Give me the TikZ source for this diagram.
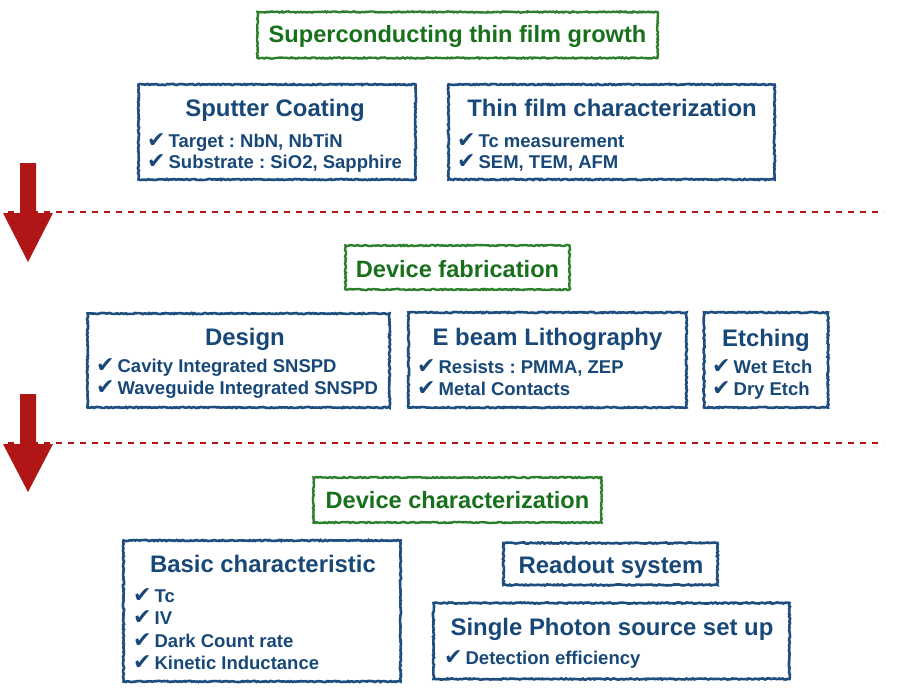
\documentclass[tikz,border=0pt]{standalone}
\usepackage{fontspec}
\setmainfont{Liberation Sans}
\newfontfamily\chkfont{DejaVu Sans}
\usetikzlibrary{decorations.pathmorphing}
\frenchspacing
\definecolor{tblue}{RGB}{24,72,120}
\definecolor{bblue}{RGB}{30,78,128}
\definecolor{tgreen}{RGB}{24,112,28}
\definecolor{bgreen}{RGB}{44,128,44}
\definecolor{ared}{RGB}{176,22,22}
\newcommand\ck{{\chkfont\fontsize{22}{24}\selectfont ✔}\hspace{3pt}}
\tikzset{
  rough/.style={decorate, decoration={random steps, segment length=1.6pt, amplitude=0.6pt}},
  bbox/.style={draw=bblue, line width=2.6pt, rough, inner sep=0pt},
  gbox/.style={draw=bgreen, line width=2.4pt, rough, inner sep=0pt},
  gttl/.style={text=tgreen, font=\bfseries\fontsize{23.6}{27}\selectfont, inner sep=0pt, anchor=base},
  bttl/.style={text=tblue, font=\bfseries\fontsize{23.9}{28}\selectfont, inner sep=0pt, anchor=base},
  itm/.style={text=tblue, font=\bfseries\fontsize{18.5}{22}\selectfont, inner sep=0pt, anchor=base west},
  sep/.style={draw=ared, line width=2.5pt, dash pattern=on 6pt off 6pt},
  bigarrow/.style={fill=ared, draw=none}
}
\begin{document}
\begin{tikzpicture}[x=1pt,y=-1pt]
\useasboundingbox (0,0) rectangle (902,698);

% separators
\coordinate (s1a) at (8,212);  \coordinate (s1b) at (884,212);
\coordinate (s2a) at (8,443);  \coordinate (s2b) at (884,443);
\draw[sep] (s1a) -- (s1b);
\draw[sep] (s2a) -- (s2b);

% arrows
\fill[bigarrow] (20,163) -- (36,163) -- (36,213) -- (53,213) -- (28,262) -- (3,213) -- (20,213) -- cycle;
\fill[bigarrow] (20,394) -- (36,394) -- (36,444) -- (53,444) -- (28,492) -- (3,444) -- (20,444) -- cycle;

% section 1
\node[gbox, minimum width=400pt, minimum height=46pt] (g1) at (457.5,35) {};
\node[gttl] (g1t) at (457.5,43) {Superconducting thin film growth};

\node[bbox, minimum width=277pt, minimum height=95pt] (sp) at (277,132) {};
\node[bttl] (spt) at (275,117) {Sputter Coating};
\node[itm] (sp1) at (147,147) {\ck Target : NbN, NbTiN};
\node[itm] (sp2) at (147,168) {\ck Substrate : SiO2, Sapphire};

\node[bbox, minimum width=326pt, minimum height=95pt] (tf) at (611.5,132) {};
\node[bttl] (tft) at (612,117) {Thin film characterization};
\node[itm] (tf1) at (457,147) {\ck Tc measurement};
\node[itm] (tf2) at (457,168) {\ck SEM, TEM, AFM};

% section 2
\node[gbox, minimum width=224pt, minimum height=44pt] (g2) at (457.5,267.5) {};
\node[gttl] (g2t) at (457.5,277) {Device fabrication};

\node[bbox, minimum width=302pt, minimum height=94pt] (de) at (238.5,360.5) {};
\node[bttl] (det) at (245,345) {Design};
\node[itm] (de1) at (96,372) {\ck Cavity Integrated SNSPD};
\node[itm] (de2) at (96,394) {\ck Waveguide Integrated SNSPD};

\node[bbox, minimum width=278pt, minimum height=95pt] (eb) at (547.5,360) {};
\node[bttl] (ebt) at (547.5,345) {E beam Lithography};
\node[itm] (eb1) at (417,373) {\ck Resists : PMMA, ZEP};
\node[itm] (eb2) at (417,395) {\ck Metal Contacts};

\node[bbox, minimum width=124pt, minimum height=95pt] (et) at (766,360) {};
\node[bttl] (ett) at (766,346) {Etching};
\node[itm] (et1) at (712,373) {\ck Wet Etch};
\node[itm] (et2) at (712,395) {\ck Dry Etch};

% section 3
\node[gbox, minimum width=288pt, minimum height=45pt] (g3) at (457.5,500) {};
\node[gttl] (g3t) at (457.5,508) {Device characterization};

\node[bbox, minimum width=277pt, minimum height=141pt] (bc) at (262,611) {};
\node[bttl] (bct) at (263,572) {Basic characteristic};
\node[itm] (bc1) at (133,602) {\ck Tc};
\node[itm] (bc2) at (133,624.5) {\ck IV};
\node[itm] (bc3) at (133,647) {\ck Dark Count rate};
\node[itm] (bc4) at (133,669.5) {\ck Kinetic Inductance};

\node[bbox, minimum width=214pt, minimum height=42pt] (ro) at (610.5,564) {};
\node[bttl] (rot) at (611,573) {Readout system};

\node[bbox, minimum width=356pt, minimum height=76pt] (sps) at (611.5,641) {};
\node[bttl] (spst) at (612,635) {Single Photon source set up};
\node[itm] (sps1) at (444,664) {\ck Detection efficiency};
\end{tikzpicture}
\end{document}
